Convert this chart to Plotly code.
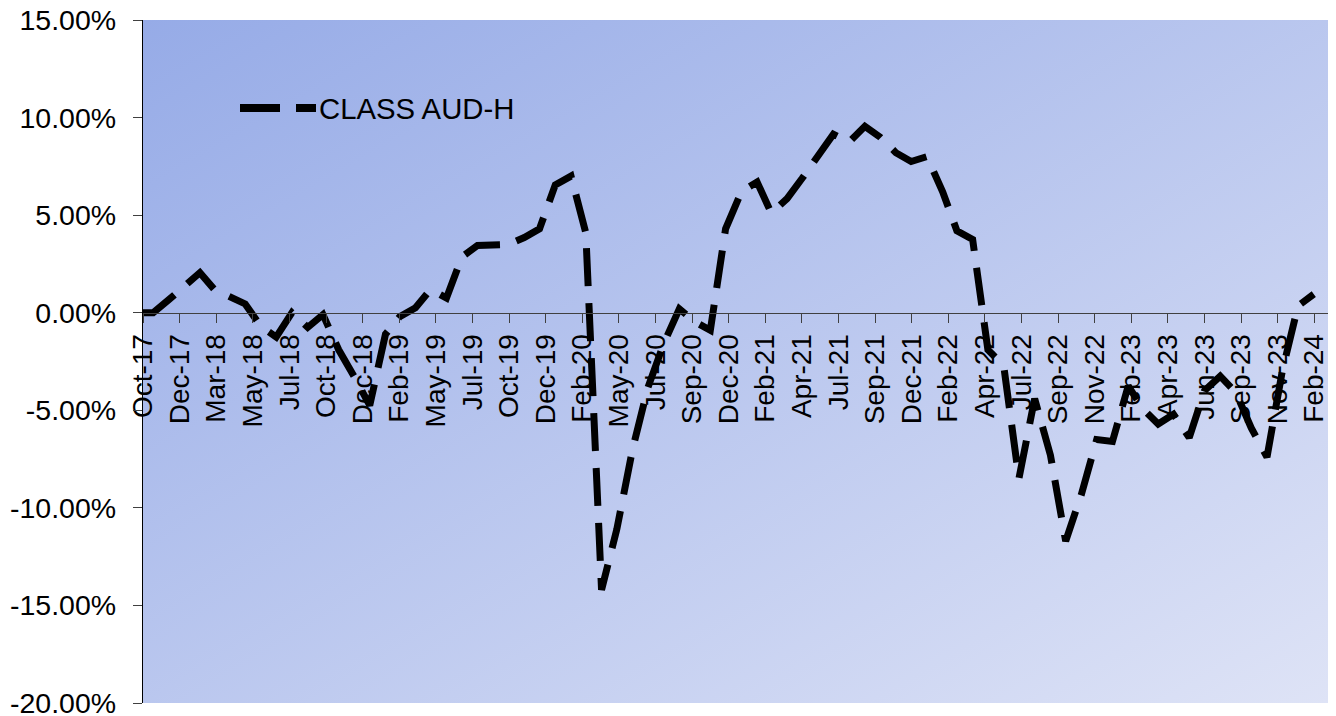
import base64
import pandas as pd
import plotly.graph_objects as go

# ---- data: cumulative performance (%) of CLASS AUD-H ----
inception = "2017-10-11"
month_ends = pd.date_range("2017-10-31", "2024-01-31", freq="ME")
dates = [pd.Timestamp(inception)] + list(month_ends)

perf_2017 = [0.0, 0.0, 0.65, 1.35]  # inception, Oct, Nov, Dec
perf_2018 = [2.05, 1.2, 0.8, 0.45, -0.7, -1.25, 0.0, -0.75, -0.1, -1.9, -3.25, -4.75]
perf_2019 = [-1.1, -0.2, 0.25, 1.2, 0.75, 2.85, 3.45, 3.45, 3.5, 3.85, 4.3, 6.55]
perf_2020 = [7.0, 4.1, -14.2, -11.1, -7.0, -3.85, -1.6, 0.2, -0.45, -0.9, 4.3, 6.2]
perf_2021 = [6.7, 5.1, 5.85, 6.9, 8.0, 9.15, 8.75, 9.55, 9.0, 8.2, 7.75, 8.0]
perf_2022 = [6.2, 4.2, 3.75, -1.9, -2.7, -8.5, -4.4, -7.3, -11.7, -9.3, -6.5, -6.6]
perf_2023 = [-3.75, -4.9, -5.7, -5.2, -6.4, -4.0, -3.25, -4.1, -5.9, -7.4, -3.0, 0.35]
perf_2024 = [0.95]
values = perf_2017 + perf_2018 + perf_2019 + perf_2020 + perf_2021 + perf_2022 + perf_2023 + perf_2024

series_name = "CLASS AUD-H"

x_tick_labels = [
    "Oct-17", "Dec-17", "Mar-18", "May-18", "Jul-18", "Oct-18", "Dec-18", "Feb-19",
    "May-19", "Jul-19", "Oct-19", "Dec-19", "Feb-20", "May-20", "Jul-20", "Sep-20",
    "Dec-20", "Feb-21", "Apr-21", "Jul-21", "Sep-21", "Dec-21", "Feb-22", "Apr-22",
    "Jul-22", "Sep-22", "Nov-22", "Feb-23", "Apr-23", "Jun-23", "Sep-23", "Nov-23",
    "Feb-24",
]
y_tick_values = [-20, -15, -10, -5, 0, 5, 10, 15]
y_tick_labels = ["-20.00%", "-15.00%", "-10.00%", "-5.00%", "0.00%", "5.00%", "10.00%", "15.00%"]

# ---- axis setup ----
x_start, x_end = pd.Timestamp(inception), pd.Timestamp("2024-02-28")
tick_dates = pd.date_range(x_start, periods=len(x_tick_labels), freq="72D")
y_min, y_max = -20, 15

W, H = 1336, 716
M_L, M_R, M_T, M_B = 143, 8, 20, 13
plot_w, plot_h = W - M_L - M_R, H - M_T - M_B

FONT = "Liberation Sans, Arial, sans-serif"

# diagonal gradient for the plot area
svg = (
    "<svg xmlns='http://www.w3.org/2000/svg' width='400' height='400' viewBox='0 0 400 400' "
    "preserveAspectRatio='none'><defs><linearGradient id='g' x1='0' y1='0' x2='1' y2='1'>"
    "<stop offset='0' stop-color='#96ABE7'/><stop offset='1' stop-color='#DEE3F6'/>"
    "</linearGradient></defs><rect width='400' height='400' fill='url(#g)'/></svg>"
)
bg_src = "data:image/svg+xml;base64," + base64.b64encode(svg.encode()).decode()

fig = go.Figure()
fig.add_trace(go.Scatter(
    x=dates, y=values, mode="lines", name=series_name,
    line=dict(color="black", width=7, dash="38px,17px"),
    showlegend=False,
))

# hand-drawn legend entry
lx0, lx1, ly = 240, 316, 108
fig.add_shape(
    type="line", xref="paper", yref="paper",
    x0=(lx0 - M_L) / plot_w, x1=(lx1 - M_L) / plot_w,
    y0=(H - M_B - ly) / plot_h, y1=(H - M_B - ly) / plot_h,
    line=dict(color="black", width=8, dash="40px,16px"),
)
fig.add_annotation(
    text=series_name, xref="paper", yref="paper",
    x=(317 - M_L) / plot_w, y=(H - M_B - ly) / plot_h,
    xanchor="left", yanchor="middle", showarrow=False,
    font=dict(family=FONT, size=29.3, color="black"),
)

fig.update_layout(
    width=W, height=H,
    margin=dict(l=M_L, r=M_R, t=M_T, b=M_B, pad=0, autoexpand=False),
    paper_bgcolor="white", plot_bgcolor="rgba(0,0,0,0)",
    font=dict(family=FONT, color="black"),
    images=[dict(
        source=bg_src, xref="paper", yref="paper", x=0, y=1, sizex=1, sizey=1,
        xanchor="left", yanchor="top", sizing="stretch", layer="below",
    )],
    xaxis=dict(
        type="date", range=[x_start, x_end], automargin=False,
        tickmode="array", tickvals=list(tick_dates), ticktext=x_tick_labels,
        tickangle=-90, ticks="outside", ticklen=9, tickwidth=1, tickcolor="#404040",
        showline=True, linecolor="#404040", linewidth=1.3,
        anchor="free", position=(0 - y_min) / (y_max - y_min),
        showgrid=False, zeroline=False, ticklabeloverflow="allow",
        tickfont=dict(family=FONT, size=28, color="black"),
    ),
    yaxis=dict(
        range=[y_min, y_max], automargin=False,
        tickmode="array", tickvals=y_tick_values, ticktext=y_tick_labels,
        ticks="outside", ticklen=9, tickwidth=1, tickcolor="#404040",
        showline=True, linecolor="black", linewidth=1.3,
        showgrid=False, zeroline=False, ticklabeloverflow="allow",
        ticklabelstandoff=11,
        tickfont=dict(family=FONT, size=28.5, color="black"),
    ),
)

fig.write_html("out.html")
